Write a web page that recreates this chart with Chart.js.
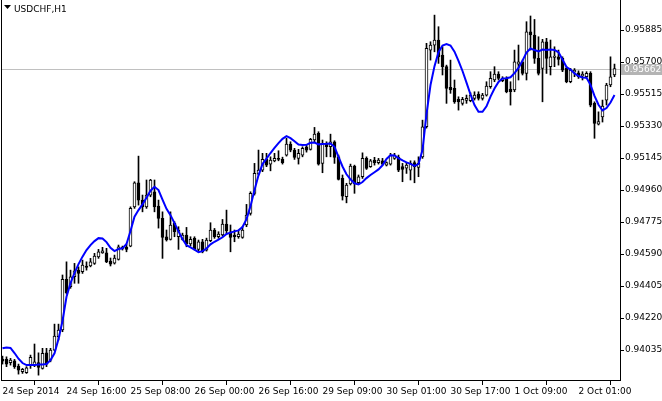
<!DOCTYPE html>
<html>
<head>
<meta charset="utf-8">
<style>
  html, body { margin: 0; padding: 0; background: #fff; }
  #box { width: 662px; height: 401px; }
</style>
</head>
<body>
<div id="box"><canvas id="grafico" width="662" height="401"></canvas></div>
<script src="https://cdn.jsdelivr.net/npm/chart.js@4/dist/chart.umd.min.js"></script>
<script>
// USDCHF H1 candles + moving average
const symbol = 'USDCHF,H1';
const lastPrice = 0.95662;
const tickBars = [0, 16, 32, 48, 64, 80, 96, 112, 128, 144];
const tickLabels = ['24 Sep 2014', '24 Sep 16:00', '25 Sep 08:00', '26 Sep 00:00', '26 Sep 16:00',
                    '29 Sep 09:00', '30 Sep 01:00', '30 Sep 17:00', '1 Oct 09:00', '2 Oct 01:00'];
const priceTicks = [0.94035, 0.94220, 0.94405, 0.94590, 0.94775, 0.94960, 0.95145, 0.95330, 0.95515, 0.95700, 0.95885];

const open = [
  0.93983, 0.93981, 0.93962, 0.93973, 0.93943, 0.93910, 0.93904, 0.93948, 0.93948, 0.93962,
  0.93929, 0.94019, 0.93977, 0.94035, 0.94112, 0.94151, 0.94444, 0.94401, 0.94459, 0.94497,
  0.94488, 0.94521, 0.94521, 0.94536, 0.94574, 0.94597, 0.94597, 0.94549, 0.94538, 0.94559,
  0.94619, 0.94630, 0.94636, 0.94863, 0.95002, 0.94902, 0.94863, 0.94931, 0.94950, 0.94867,
  0.94796, 0.94690, 0.94675, 0.94767, 0.94690, 0.94675, 0.94700, 0.94648, 0.94681, 0.94617,
  0.94661, 0.94613, 0.94667, 0.94729, 0.94690, 0.94700, 0.94763, 0.94719, 0.94700, 0.94690,
  0.94686, 0.94758, 0.94825, 0.94941, 0.95051, 0.95075, 0.95137, 0.95110, 0.95129, 0.95143,
  0.95137, 0.95162, 0.95226, 0.95191, 0.95143, 0.95162, 0.95210, 0.95195, 0.95249, 0.95288,
  0.95114, 0.95230, 0.95210, 0.95239, 0.95152, 0.95027, 0.94921, 0.94995, 0.95099, 0.95002,
  0.95037, 0.95143, 0.95095, 0.95133, 0.95118, 0.95129, 0.95104, 0.95110, 0.95143, 0.95151,
  0.95096, 0.95087, 0.95075, 0.95118, 0.95091, 0.95152, 0.95326, 0.95769, 0.95798, 0.95827,
  0.95740, 0.95673, 0.95553, 0.95548, 0.95484, 0.95461, 0.95478, 0.95476, 0.95490, 0.95515,
  0.95490, 0.95509, 0.95557, 0.95596, 0.95630, 0.95592, 0.95605, 0.95544, 0.95538, 0.95688,
  0.95701, 0.95634, 0.95875, 0.95856, 0.95721, 0.95663, 0.95817, 0.95673, 0.95727, 0.95730,
  0.95721, 0.95663, 0.95586, 0.95642, 0.95638, 0.95619, 0.95615, 0.95634, 0.95461, 0.95341,
  0.95382, 0.95480, 0.95567, 0.95625
];
const high = [
  0.94000, 0.93996, 0.93987, 0.93981, 0.93954, 0.93929, 0.93939, 0.94006, 0.94070, 0.94019,
  0.94045, 0.94045, 0.94045, 0.94185, 0.94185, 0.94469, 0.94545, 0.94497, 0.94536, 0.94516,
  0.94555, 0.94545, 0.94565, 0.94594, 0.94617, 0.94629, 0.94623, 0.94567, 0.94584, 0.94642,
  0.94636, 0.94648, 0.94863, 0.95008, 0.95156, 0.94931, 0.95018, 0.95022, 0.95018, 0.94902,
  0.94834, 0.94729, 0.94834, 0.94777, 0.94748, 0.94711, 0.94744, 0.94690, 0.94690, 0.94671,
  0.94675, 0.94682, 0.94771, 0.94738, 0.94719, 0.94790, 0.94844, 0.94758, 0.94729, 0.94725,
  0.94748, 0.94877, 0.94950, 0.95114, 0.95191, 0.95172, 0.95172, 0.95152, 0.95172, 0.95187,
  0.95150, 0.95259, 0.95239, 0.95201, 0.95195, 0.95210, 0.95220, 0.95259, 0.95322, 0.95297,
  0.95249, 0.95239, 0.95283, 0.95245, 0.95162, 0.95047, 0.94999, 0.95110, 0.95104, 0.95047,
  0.95175, 0.95152, 0.95137, 0.95149, 0.95143, 0.95143, 0.95123, 0.95172, 0.95172, 0.95162,
  0.95114, 0.95118, 0.95129, 0.95129, 0.95152, 0.95364, 0.95808, 0.95817, 0.95971, 0.95904,
  0.95788, 0.95682, 0.95711, 0.95596, 0.95499, 0.95496, 0.95509, 0.95522, 0.95528, 0.95528,
  0.95519, 0.95586, 0.95644, 0.95673, 0.95644, 0.95615, 0.95615, 0.95586, 0.95769, 0.95798,
  0.95711, 0.95933, 0.95966, 0.95946, 0.95846, 0.95831, 0.95837, 0.95827, 0.95788, 0.95769,
  0.95730, 0.95673, 0.95663, 0.95662, 0.95649, 0.95644, 0.95644, 0.95644, 0.95470, 0.95412,
  0.95480, 0.95577, 0.95730, 0.95688
];
const low = [
  0.93954, 0.93939, 0.93948, 0.93929, 0.93896, 0.93900, 0.93900, 0.93929, 0.93939, 0.93890,
  0.93925, 0.93939, 0.93967, 0.94031, 0.94093, 0.94141, 0.94359, 0.94392, 0.94421, 0.94421,
  0.94478, 0.94497, 0.94516, 0.94530, 0.94565, 0.94594, 0.94540, 0.94521, 0.94532, 0.94555,
  0.94613, 0.94603, 0.94632, 0.94854, 0.94873, 0.94834, 0.94854, 0.94921, 0.94834, 0.94740,
  0.94565, 0.94665, 0.94671, 0.94690, 0.94617, 0.94671, 0.94632, 0.94636, 0.94613, 0.94607,
  0.94597, 0.94607, 0.94661, 0.94681, 0.94681, 0.94694, 0.94710, 0.94603, 0.94661, 0.94681,
  0.94681, 0.94748, 0.94815, 0.94931, 0.95047, 0.95066, 0.95095, 0.95071, 0.95123, 0.95129,
  0.95110, 0.95156, 0.95181, 0.95137, 0.95110, 0.95152, 0.95179, 0.95191, 0.95239, 0.95104,
  0.95060, 0.95152, 0.95152, 0.95114, 0.95018, 0.94902, 0.94886, 0.94989, 0.94941, 0.94995,
  0.95027, 0.95079, 0.95091, 0.95104, 0.95110, 0.95104, 0.95099, 0.95104, 0.95137, 0.95066,
  0.95008, 0.95056, 0.95018, 0.95002, 0.95037, 0.95143, 0.95318, 0.95711, 0.95759, 0.95692,
  0.95625, 0.95461, 0.95519, 0.95461, 0.95422, 0.95451, 0.95461, 0.95470, 0.95480, 0.95480,
  0.95480, 0.95503, 0.95548, 0.95586, 0.95596, 0.95586, 0.95522, 0.95451, 0.95528, 0.95596,
  0.95625, 0.95596, 0.95769, 0.95692, 0.95625, 0.95470, 0.95634, 0.95625, 0.95673, 0.95682,
  0.95644, 0.95580, 0.95580, 0.95615, 0.95605, 0.95596, 0.95605, 0.95441, 0.95259, 0.95336,
  0.95353, 0.95451, 0.95557, 0.95615
];
const close = [
  0.93971, 0.93954, 0.93977, 0.93939, 0.93919, 0.93923, 0.93933, 0.93993, 0.93967, 0.93935,
  0.94016, 0.93954, 0.94035, 0.94116, 0.94151, 0.94444, 0.94366, 0.94459, 0.94493, 0.94478,
  0.94526, 0.94513, 0.94545, 0.94578, 0.94603, 0.94609, 0.94545, 0.94532, 0.94567, 0.94632,
  0.94630, 0.94617, 0.94854, 0.95002, 0.94902, 0.94863, 0.94931, 0.95018, 0.94863, 0.94796,
  0.94686, 0.94671, 0.94758, 0.94719, 0.94729, 0.94700, 0.94648, 0.94675, 0.94617, 0.94661,
  0.94603, 0.94671, 0.94729, 0.94690, 0.94706, 0.94763, 0.94725, 0.94686, 0.94690, 0.94706,
  0.94729, 0.94815, 0.94941, 0.95056, 0.95075, 0.95137, 0.95104, 0.95133, 0.95143, 0.95137,
  0.95118, 0.95226, 0.95191, 0.95149, 0.95172, 0.95201, 0.95191, 0.95253, 0.95283, 0.95110,
  0.95230, 0.95210, 0.95239, 0.95149, 0.95022, 0.94925, 0.94989, 0.95099, 0.94995, 0.95037,
  0.95143, 0.95085, 0.95129, 0.95118, 0.95133, 0.95110, 0.95118, 0.95162, 0.95162, 0.95075,
  0.95079, 0.95104, 0.95114, 0.95095, 0.95114, 0.95326, 0.95779, 0.95798, 0.95827, 0.95730,
  0.95673, 0.95548, 0.95538, 0.95470, 0.95470, 0.95484, 0.95490, 0.95509, 0.95509, 0.95490,
  0.95509, 0.95561, 0.95605, 0.95630, 0.95605, 0.95605, 0.95528, 0.95528, 0.95701, 0.95701,
  0.95634, 0.95875, 0.95856, 0.95721, 0.95634, 0.95817, 0.95721, 0.95730, 0.95734, 0.95715,
  0.95653, 0.95586, 0.95653, 0.95652, 0.95615, 0.95630, 0.95634, 0.95451, 0.95345, 0.95355,
  0.95445, 0.95567, 0.95615, 0.95662
];
const ma = [
  0.94045, 0.94050, 0.94047, 0.94018, 0.93985, 0.93960, 0.93948, 0.93948, 0.93948, 0.93951,
  0.93951, 0.93954, 0.93977, 0.94016, 0.94099, 0.94203, 0.94343, 0.94422, 0.94480, 0.94532,
  0.94575, 0.94613, 0.94642, 0.94665, 0.94682, 0.94680, 0.94659, 0.94626, 0.94607, 0.94619,
  0.94623, 0.94648, 0.94723, 0.94806, 0.94844, 0.94877, 0.94915, 0.94956, 0.94979, 0.94960,
  0.94904, 0.94851, 0.94815, 0.94769, 0.94721, 0.94677, 0.94641, 0.94629, 0.94616, 0.94601,
  0.94607, 0.94622, 0.94646, 0.94661, 0.94673, 0.94687, 0.94706, 0.94714, 0.94721, 0.94727,
  0.94746, 0.94792, 0.94867, 0.94960, 0.95045, 0.95110, 0.95142, 0.95174, 0.95203, 0.95231,
  0.95256, 0.95272, 0.95260, 0.95242, 0.95223, 0.95220, 0.95221, 0.95233, 0.95234, 0.95224,
  0.95226, 0.95227, 0.95229, 0.95210, 0.95152, 0.95096, 0.95051, 0.95022, 0.94999, 0.94992,
  0.95006, 0.95029, 0.95047, 0.95063, 0.95079, 0.95103, 0.95140, 0.95161, 0.95160, 0.95145,
  0.95131, 0.95120, 0.95111, 0.95099, 0.95110, 0.95191, 0.95399, 0.95567, 0.95676, 0.95757,
  0.95795, 0.95804, 0.95795, 0.95760, 0.95707, 0.95648, 0.95581, 0.95512, 0.95451, 0.95412,
  0.95412, 0.95444, 0.95500, 0.95547, 0.95585, 0.95605, 0.95606, 0.95612, 0.95636, 0.95666,
  0.95708, 0.95754, 0.95778, 0.95769, 0.95761, 0.95772, 0.95769, 0.95772, 0.95770, 0.95756,
  0.95715, 0.95671, 0.95656, 0.95634, 0.95619, 0.95611, 0.95609, 0.95568, 0.95504, 0.95453,
  0.95420, 0.95434, 0.95466, 0.95509
];

const FONT = { family: 'DejaVu Sans', size: 9 };

const idx = open.map((_, i) => i);
const wicks = idx.map(i => ({ x: i, y: [low[i], high[i]] }));
const bodies = idx.map(i => ({ x: i, y: [Math.min(open[i], close[i]), Math.max(open[i], close[i])] }));
const bodyColors = idx.map(i => close[i] >= open[i] ? '#ffffff' : '#000000');
const maLine = idx.map(i => ({ x: i, y: ma[i] }));

// extras MT5: linha do preço atual, moldura, titulo e etiqueta do preço
const terminalExtras = {
  id: 'terminalExtras',
  beforeDatasetsDraw(chart) {
    const { ctx, chartArea } = chart;
    const y = Math.round(chart.scales.y.getPixelForValue(lastPrice)) + 0.5;
    ctx.save();
    ctx.strokeStyle = '#c0c0c0';
    ctx.lineWidth = 1;
    ctx.beginPath();
    ctx.moveTo(chartArea.left, y);
    ctx.lineTo(chartArea.right, y);
    ctx.stroke();
    ctx.restore();
  },
  afterDraw(chart) {
    const { ctx, chartArea } = chart;
    ctx.save();
    // borda esquerda
    ctx.strokeStyle = '#000';
    ctx.lineWidth = 1;
    ctx.beginPath();
    ctx.moveTo(chartArea.left + 0.5, chartArea.top);
    ctx.lineTo(chartArea.left + 0.5, chartArea.bottom);
    ctx.stroke();
    // titulo
    ctx.fillStyle = '#000';
    ctx.beginPath();
    ctx.moveTo(4, 5);
    ctx.lineTo(11, 5);
    ctx.lineTo(7.5, 9);
    ctx.closePath();
    ctx.fill();
    ctx.font = FONT.size + 'px "' + FONT.family + '"';
    ctx.textBaseline = 'alphabetic';
    ctx.fillText(symbol, 14, 12);
    // etiqueta do ultimo preco
    const y = Math.round(chart.scales.y.getPixelForValue(lastPrice));
    ctx.fillStyle = '#b4b4b4';
    ctx.fillRect(chartArea.right + 1, y - 5, 42, 11);
    ctx.fillStyle = '#ffffff';
    ctx.textBaseline = 'middle';
    ctx.fillText(lastPrice.toFixed(5), chartArea.right + 4, y + 0.5);
    ctx.restore();
  }
};

new Chart(document.getElementById('grafico'), {
  type: 'bar',
  data: {
    datasets: [
      {
        type: 'line',
        label: 'MA',
        data: maLine,
        borderColor: '#0000ff',
        borderWidth: 2,
        pointRadius: 0,
        tension: 0,
        order: 0
      },
      {
        label: 'body',
        data: bodies,
        backgroundColor: bodyColors,
        borderColor: '#000000',
        borderWidth: 1,
        borderSkipped: false,
        barThickness: 3,
        minBarLength: 1,
        grouped: false,
        order: 1
      },
      {
        label: 'wick',
        data: wicks,
        backgroundColor: '#000000',
        borderWidth: 0,
        barThickness: 1,
        grouped: false,
        order: 2
      }
    ]
  },
  options: {
    responsive: false,
    animation: false,
    layout: { padding: { left: 1, top: 0, right: 0, bottom: 0 } },
    plugins: {
      legend: { display: false },
      tooltip: { enabled: false }
    },
    scales: {
      x: {
        type: 'linear',
        min: -0.375,
        max: 154.375,
        offset: false,
        bounds: 'data',
        afterBuildTicks: s => { s.ticks = tickBars.map(v => ({ value: v })); },
        afterFit: s => { s.height = 21; s.paddingLeft = 0; s.paddingRight = 0; },
        ticks: {
          autoSkip: false,
          maxRotation: 0,
          align: 'start',
          padding: 1,
          color: '#000',
          font: FONT,
          callback: (v, i) => tickLabels[i]
        },
        grid: { drawOnChartArea: false, drawTicks: true, tickLength: 5, tickColor: '#000' },
        border: { display: true, color: '#000' }
      },
      y: {
        type: 'linear',
        position: 'right',
        min: 0.938620,
        max: 0.960584,
        beginAtZero: false,
        bounds: 'data',
        afterBuildTicks: s => { s.ticks = priceTicks.map(v => ({ value: v })); },
        afterFit: s => { s.width = 42; s.paddingTop = 0; s.paddingBottom = 0; },
        ticks: {
          autoSkip: false,
          padding: 1,
          color: '#000',
          font: FONT,
          callback: v => v.toFixed(5)
        },
        grid: { drawOnChartArea: false, drawTicks: true, tickLength: 4, tickColor: '#000' },
        border: { display: true, color: '#000' }
      }
    }
  },
  plugins: [terminalExtras]
});
</script>
</body>
</html>
